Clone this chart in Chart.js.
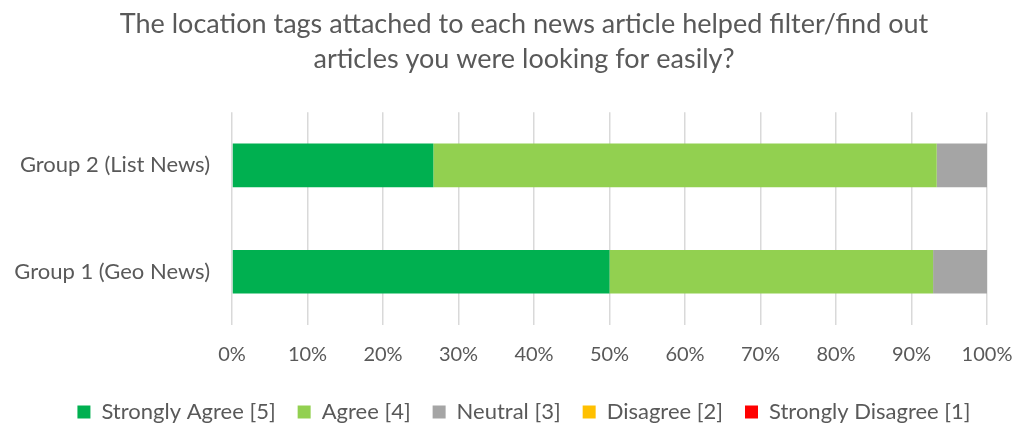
<!DOCTYPE html>
<html>
<head>
<meta charset="utf-8">
<script src="https://cdn.jsdelivr.net/npm/chart.js@4/dist/chart.umd.min.js"></script>
<style>
  html, body { margin: 0; padding: 0; background: #fff; }
  #wrap { width: 1018px; height: 427px; }
</style>
</head>
<body>
<div id="wrap"><canvas id="chart" width="1018" height="427"></canvas></div>
<script>
const groups = ["Group 2 (List News)", "Group 1 (Geo News)"];
const stronglyAgree = [26.67, 50.0];
const agree = [66.67, 42.86];
const neutral = [6.67, 7.14];
const disagree = [0, 0];
const stronglyDisagree = [0, 0];
const xTicks = [0, 10, 20, 30, 40, 50, 60, 70, 80, 90, 100];

const textColor = "#595959";
const fontFamily = "Lato, 'Open Sans', sans-serif";
const padLeft = 30;

function series(label, data, color) {
  return {
    label,
    data,
    backgroundColor: color,
    borderWidth: 0,
    barPercentage: 0.82,
    categoryPercentage: 0.5,
  };
}

// the category labels are wider than the y scale box; stop them being clipped
const unclipLabels = {
  id: "unclipLabels",
  afterLayout(chart) {
    chart.scales.y.left = 0;
  },
};

new Chart(document.getElementById("chart"), {
  type: "bar",
  plugins: [unclipLabels],
  data: {
    labels: groups,
    datasets: [
      series("Strongly Agree [5]", stronglyAgree, "#00B050"),
      series("Agree [4]", agree, "#92D050"),
      series("Neutral [3]", neutral, "#A5A5A5"),
      series("Disagree [2]", disagree, "#FFC000"),
      series("Strongly Disagree [1]", stronglyDisagree, "#FF0000"),
    ],
  },
  options: {
    indexAxis: "y",
    responsive: false,
    animation: false,
    layout: {
      padding: { left: padLeft, right: 0, top: 7, bottom: -6 },
    },
    plugins: {
      title: {
        display: true,
        text: [
          "The location tags attached to each news article helped filter/find out",
          "articles you were looking for easily?",
        ],
        color: textColor,
        font: { size: 27, family: fontFamily, weight: "normal", lineHeight: 1.3 },
        padding: { top: 0, bottom: 35 },
      },
      legend: {
        position: "bottom",
        labels: {
          color: textColor,
          boxWidth: 13,
          boxHeight: 13,
          padding: 22,
          font: { size: 22, family: fontFamily },
        },
      },
      tooltip: { enabled: false },
    },
    scales: {
      x: {
        stacked: true,
        min: 0,
        max: 100,
        afterBuildTicks: (scale) => {
          scale.ticks = xTicks.map((v) => ({ value: v }));
        },
        afterFit: (scale) => {
          scale.height = 54;
          scale.paddingLeft = 0;
          scale.paddingRight = 31;
        },
        grid: {
          color: "#D9D9D9",
          lineWidth: 1.5,
          drawTicks: false,
        },
        border: { display: false },
        ticks: {
          padding: 18,
          color: textColor,
          font: { size: 20, family: fontFamily },
          callback: (v) => v + "%",
        },
      },
      y: {
        stacked: true,
        afterFit: (scale) => {
          scale.width = 232 - padLeft;
        },
        grid: { display: false, drawTicks: false },
        border: { display: false },
        ticks: {
          padding: 22,
          color: textColor,
          font: { size: 22, family: fontFamily },
        },
      },
    },
  },
});
</script>
</body>
</html>
